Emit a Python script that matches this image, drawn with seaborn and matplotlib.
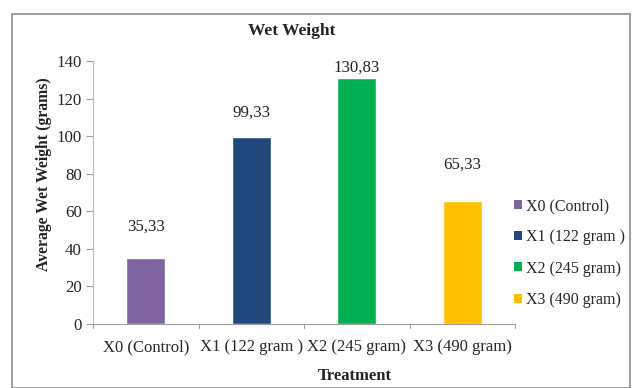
import matplotlib
matplotlib.use("Agg")
import matplotlib.pyplot as plt
import seaborn as sns
import pandas as pd
from matplotlib.patches import Rectangle, Patch

treatments = ["X0 (Control)", "X1 (122 gram )", "X2 (245 gram)", "X3 (490 gram)"]
wet_weight = [35.33, 99.33, 130.83, 65.33]
value_labels = ["35,33", "99,33", "130,83", "65,33"]
colors = ["#8064A2", "#1F497D", "#00B050", "#FFC000"]
y_ticks = [0, 20, 40, 60, 80, 100, 120, 140]

# vertical gap (in data units) between each bar top and its value label
label_gap = [12, 9, 1.5, 15]

sns.set_theme(style="white")
plt.rcParams["font.family"] = ["Liberation Serif", "DejaVu Serif"]

df = pd.DataFrame({"Treatment": treatments, "Weight": wet_weight})

fig = plt.figure(figsize=(6.35, 3.88), dpi=100)
fig.patch.set_facecolor("white")

# outer chart border
fig.patches.append(Rectangle((12 / 635, 0.0), 618 / 635, 1 - 14 / 388,
                             transform=fig.transFigure, fill=False,
                             edgecolor="#8c8c8c", linewidth=1.2))

ax = fig.add_axes([93 / 635, 1 - 324 / 388, 422 / 635, 263 / 388])
sns.barplot(data=df, x="Treatment", y="Weight", hue="Treatment",
            palette=colors, width=0.37, dodge=False, legend=False,
            saturation=1, ax=ax)

fs = 12.0
ax.set_ylim(0, 140)
ax.set_xlim(-0.5, 3.5)
ax.set_yticks(y_ticks)
ax.set_yticklabels([str(t) for t in y_ticks], fontsize=12.2)
ax.set_xticks(range(4))
ax.set_xticklabels(treatments, fontsize=fs)
ax.tick_params(axis="x", length=0, pad=11)
ax.tick_params(axis="y", length=5, width=0.8, color="#9a9a9a", left=True,
               direction="out", pad=3)
# category boundary ticks on the x axis
for xb in [-0.5, 0.5, 1.5, 2.5, 3.5]:
    ax.plot([xb, xb], [0, -2.2], color="#9a9a9a", lw=0.8, clip_on=False)

for s in ["top", "right"]:
    ax.spines[s].set_visible(False)
ax.spines["left"].set_color("#bdbdbd")
ax.spines["bottom"].set_color("#9a9a9a")
ax.spines["left"].set_linewidth(0.8)
ax.spines["bottom"].set_linewidth(0.8)

for i, (v, lab, g) in enumerate(zip(wet_weight, value_labels, label_gap)):
    ax.text(i, v + g, lab, ha="center", va="bottom", fontsize=12.2,
            color="#222222")

ax.set_xlabel("Treatment", fontsize=12, fontweight="bold", color="#222222")
ax.xaxis.set_label_coords((355 - 93) / 422, -(368 - 324) / 263)
ax.set_ylabel("Average Wet Weight (grams)", fontsize=11.3, fontweight="bold",
              color="#222222")
ax.yaxis.set_label_coords(-(93 - 52) / 422, (324 - 174) / 263)

fig.text(292 / 635, 1 - 31 / 388, "Wet Weight", ha="center", va="center",
         fontsize=12.5, fontweight="bold", color="#222222")

handles = [Patch(facecolor=c, edgecolor="none") for c in colors]
fig.legend(handles, treatments, loc="center left",
           bbox_to_anchor=(508 / 635, 1 - 253 / 388), frameon=False,
           fontsize=11.5, handlelength=0.5, handleheight=0.5,
           handletextpad=0.25, labelspacing=0.95, borderaxespad=0)

fig.savefig("out.png", dpi=100, facecolor="white")
